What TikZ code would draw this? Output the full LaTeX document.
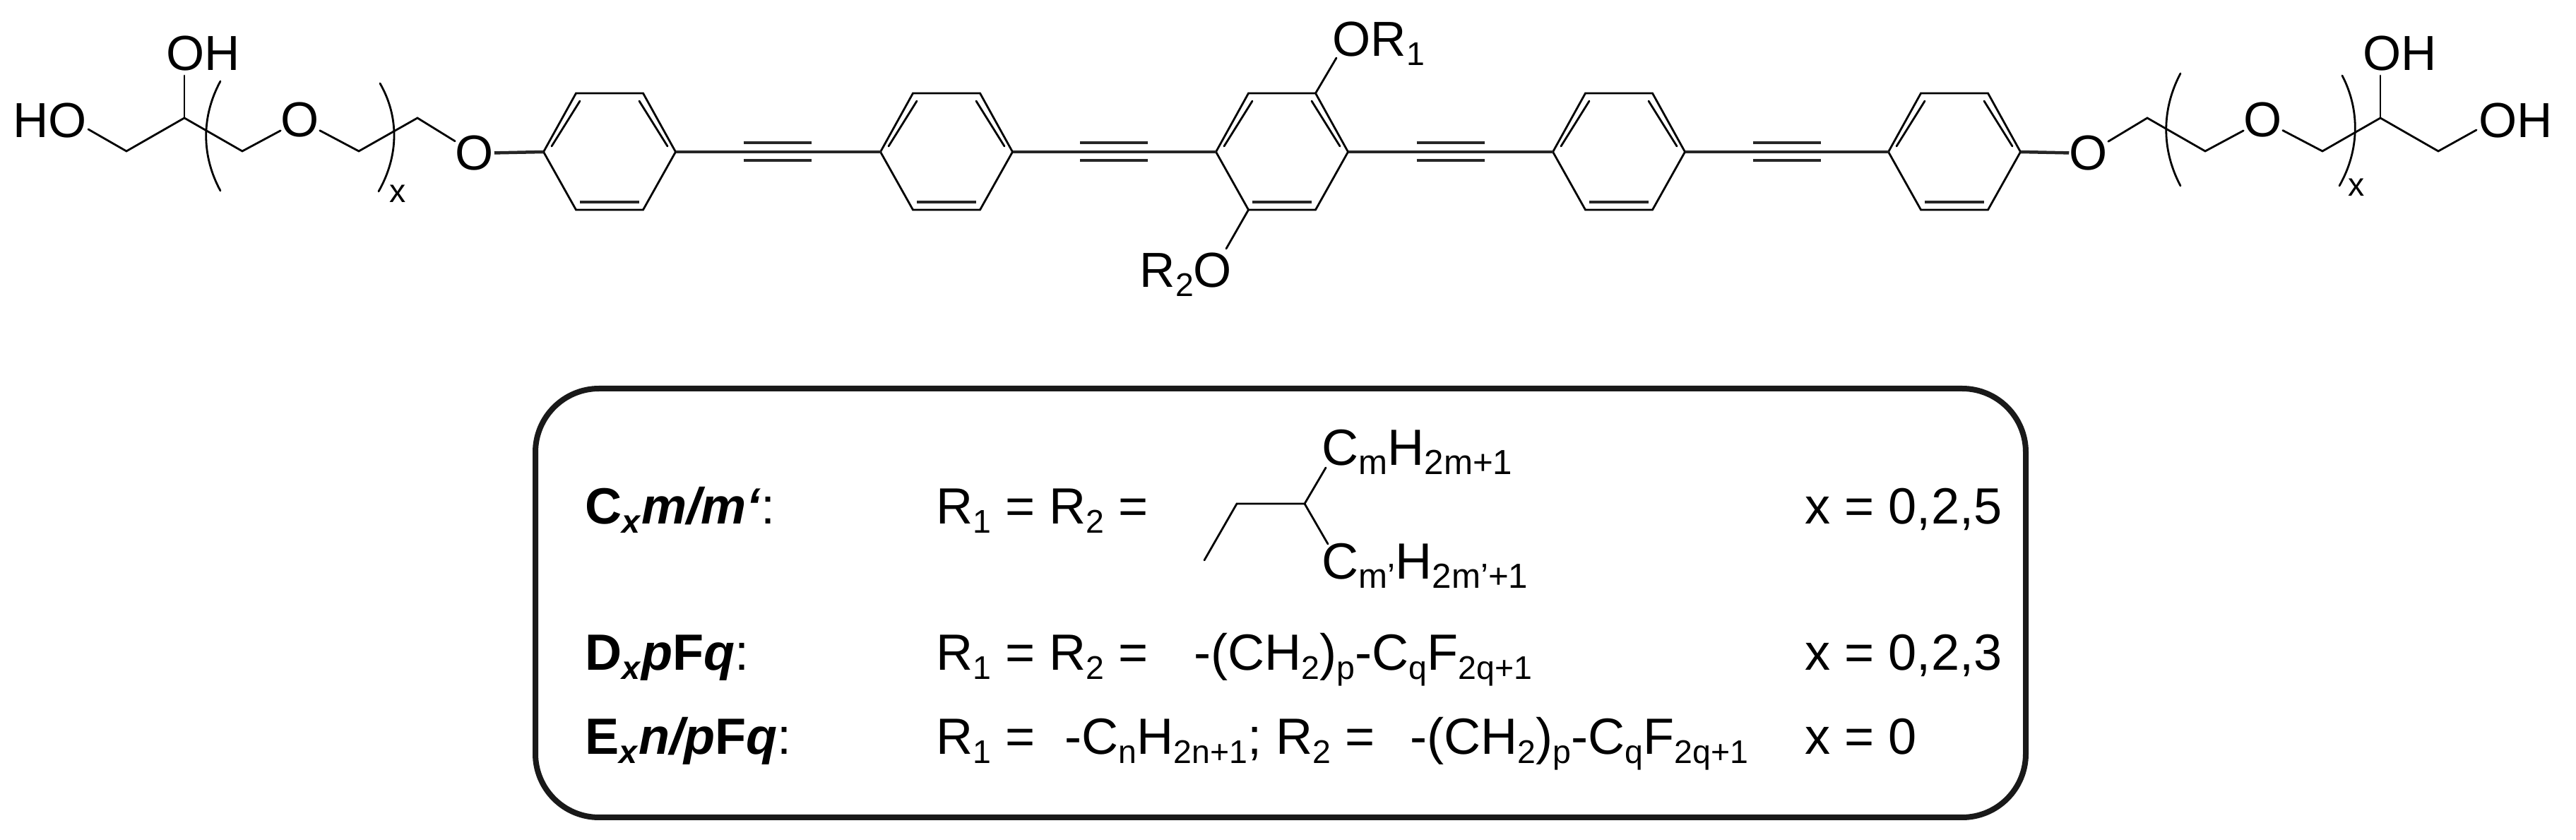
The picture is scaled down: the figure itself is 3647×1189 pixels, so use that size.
\documentclass[tikz,border=0pt]{standalone}
\usepackage{fontspec}
\setmainfont[Ligatures=ResetAll]{Liberation Sans}
\newcommand{\chemsize}{\fontsize{19.8pt}{24pt}\selectfont}
\newcommand{\panelsize}{\fontsize{20.5pt}{24pt}\selectfont}
\newcommand{\low}[1]{\raisebox{-.18em}{\fontsize{13.2pt}{16pt}\selectfont #1}}
\newcommand{\lowb}[1]{\raisebox{-.18em}{\fontsize{14pt}{16pt}\selectfont #1}}
\tikzset{
 bond/.style={black, line width=.028cm, line cap=round},
 thickbond/.style={black!85, line width=.045cm},
 atom/.style={font=\chemsize, inner sep=0pt},
 chemlabel/.style={font=\chemsize, inner sep=0pt, anchor=base west},
 formula/.style={font=\panelsize, inner sep=0pt, anchor=base west},
 repeatx/.style={font=\fontsize{13.2pt}{16pt}\selectfont, inner sep=0pt, anchor=base west},
 panel/.style={black!90, line width=.08cm, rounded corners=.9cm}
}
\begin{document}
\begin{tikzpicture} [x=.01cm, y=-.01cm]
\useasboundingbox (0,0) rectangle (3647,1189);
\foreach \c [count=\i] in {863, 1340, 1815, 2292, 2767} {
 \coordinate (r\i-l) at (\c-93.5,215);
 \coordinate (r\i-r) at (\c+93.5,215);
 \coordinate (r\i-tl) at (\c-47.5,132);
 \coordinate (r\i-tr) at (\c+47.5,132);
 \coordinate (r\i-bl) at (\c-47.5,297);
 \coordinate (r\i-br) at (\c+47.5,297);
 \draw[bond, line join=miter] (r\i-l) -- (r\i-tl) -- (r\i-tr) -- (r\i-r) -- (r\i-br) -- (r\i-bl) -- cycle;
 \draw[bond] (\c-42,143) -- (\c-82,207);
 \draw[bond] (\c+42,143) -- (\c+82,207);
 \draw[thickbond] (\c-42,286) -- (\c+42,286);
}
\foreach \a/\b/\m in {1/2/1100.5, 2/3/1577, 3/4/2053.5, 4/5/2529.5} {
 \draw[thickbond] (r\a-r) -- (r\b-l);
 \draw[thickbond] (\m-48,202) -- (\m+48,202);
 \draw[thickbond] (\m-48,227) -- (\m+48,227);
}

\node[chemlabel] (holeft) at (18,195) {HO};
\node[chemlabel] (ohleft) at (235,100) {OH};
\node[atom] (oa) at (425,170) {O};
\node[atom] (ob) at (672,217) {O};
\node[atom] (oc) at (2957,217) {O};
\node[atom] (od) at (3204,170) {O};
\node[chemlabel] (ohright) at (3345,100) {OH};
\node[chemlabel] (oxright) at (3509,195) {OH};
\node[repeatx] (xleft) at (551,287) {x};
\node[repeatx] (xright) at (3324,278) {x};
\node[chemlabel] (orone) at (1886,80) {OR\low{1}};
\node[chemlabel] (rtwoo) at (1613,407) {R\low{2}O};

\coordinate (hoend) at (125,183);
\coordinate (ca) at (179,214);
\coordinate (cb) at (261,167);
\coordinate (cc) at (343,214);
\coordinate (cd) at (508,214);
\coordinate (ce) at (591,167);
\coordinate (cf) at (3040,167);
\coordinate (cg) at (3122,214);
\coordinate (ch) at (3288,214);
\coordinate (ci) at (3370,167);
\coordinate (cj) at (3452,214);
\coordinate (ohlefttop) at (261,107);
\coordinate (ohrighttop) at (3370,107);
\coordinate (oendright) at (3506,184);
\coordinate (oroneend) at (1892,82);
\coordinate (rtwoend) at (1736,352);
\draw[bond] (hoend) -- (ca) -- (cb) -- (cc) -- (oa);
\draw[bond] (cb) -- (ohlefttop);
\draw[bond] (oa) -- (cd) -- (ce) -- (ob);
\draw[thickbond] (ob) -- (r1-l);
\draw[thickbond] (r5-r) -- (oc);
\draw[bond] (oc) -- (cf) -- (cg) -- (od);
\draw[bond] (od) -- (ch) -- (ci) -- (cj) -- (oendright);
\draw[bond] (ci) -- (ohrighttop);
\draw[bond] (r3-tr) -- (oroneend);
\draw[bond] (r3-bl) -- (rtwoend);

\draw[bond] (312,115) .. controls (285,165) and (285,220) .. (312,270);
\draw[bond] (538,118) .. controls (565,165) and (565,220) .. (536,271);
\draw[bond] (3087,104) .. controls (3060,155) and (3060,212) .. (3087,263);
\draw[bond] (3316,107) .. controls (3341,155) and (3341,212) .. (3312,263);

\draw[panel] (758,550) rectangle (2868,1157);

\node[formula] (cname) at (828,742) {\textbf{C\low{\textit{x}}\textit{m/m‘}}:};
\node[formula] (dname) at (828,949) {\textbf{D\low{\textit{x}}\textit{p}F\textit{q}}:};
\node[formula] (ename) at (828,1068) {\textbf{E\low{\textit{x}}\textit{n/p}F\textit{q}}:};
\node[formula] (cr) at (1325,742) {R\low{1} = R\low{2} =};
\node[formula] (dr) at (1325,949) {R\low{1} = R\low{2} =};
\node[formula] (er) at (1325,1068) {R\low{1} =};
\node[formula] (dchain) at (1690,949) {-(CH\low{2})\low{p}-C\low{q}F\low{2q+1}};
\node[formula] (echaina) at (1507,1068) {-C\low{n}H\low{2n+1}; R\low{2} =};
\node[formula] (echainb) at (1996,1068) {-(CH\low{2})\low{p}-C\low{q}F\low{2q+1}};
\node[formula] (cx) at (2555,742) {x = 0,2,5};
\node[formula] (dx) at (2555,949) {x = 0,2,3};
\node[formula] (ex) at (2555,1068) {x = 0};
\node[formula] (cupper) at (1871,659) {C\lowb{m}H\lowb{2m+1}};
\node[formula] (clower) at (1871,820) {C\lowb{m'}H\lowb{2m'+1}};

\coordinate (alka) at (1705,793);
\coordinate (alkb) at (1751,713);
\coordinate (alkc) at (1847,713);
\coordinate (alkup) at (1877,662);
\coordinate (alkdown) at (1880,770);
\draw[bond] (alka) -- (alkb) -- (alkc) -- (alkup);
\draw[bond] (alkc) -- (alkdown);
\end{tikzpicture}
\end{document}
